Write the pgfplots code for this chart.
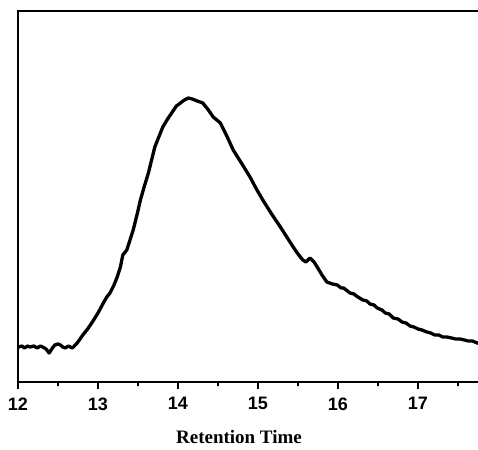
\documentclass[border=0pt]{standalone}
\usepackage{fontspec}
\setmainfont{Liberation Serif}
\setsansfont{Liberation Sans}
\usepackage{pgfplots}
\pgfplotsset{compat=1.18}
\begin{document}
\begin{tikzpicture}
\begin{axis}[
  at={(0pt,0pt)}, anchor=south west,
  scale only axis,
  width=464pt, height=371pt,
  xmin=12, xmax=17.8, ymin=0, ymax=371,
  axis line style={line width=1.8pt},
  xtick={12,13,14,15,16,17},
  minor xtick={12.5,13.5,14.5,15.5,16.5,17.5},
  ytick=\empty,
  xtick pos=bottom,
  tick align=outside,
  major tick length=7pt,
  minor tick length=4pt,
  every tick/.style={black, line width=1.5pt},
  /pgf/number format/assume math mode=true,
  xticklabel style={font=\fontsize{18}{20}\selectfont\sffamily\bfseries, yshift=-5pt},
  xlabel={Retention Time},
  xlabel style={font=\fontsize{19}{22}\selectfont\rmfamily\bfseries, yshift=-13pt, xshift=-11pt},
  clip=false,
]
\addplot[black, line width=3.3pt, line join=round] coordinates {
(12.01,35) (12.05,36) (12.08,34) (12.12,36) (12.15,35) (12.2,36) (12.24,34) (12.28,36) (12.31,35) (12.35,33)
(12.39,29) (12.43,34) (12.46,37) (12.50,38) (12.53,37) (12.56,35) (12.59,34) (12.63,36) (12.68,34)
(12.74,39) (12.81,47) (12.87,53) (12.93,60) (13.00,69) (13.06,78) (13.11,85) (13.15,89)
(13.20,97) (13.24,105) (13.28,115) (13.31,127) (13.36,132) (13.40,142) (13.44,152)
(13.49,168) (13.53,182) (13.58,196) (13.63,209) (13.67,222) (13.71,235) (13.76,245)
(13.81,255) (13.87,263) (13.93,270) (13.98,276) (14.03,279) (14.08,282) (14.13,284)
(14.18,283) (14.24,281) (14.31,279) (14.38,272) (14.44,265) (14.53,259) (14.61,246)
(14.69,232) (14.80,218) (14.90,205) (14.98,193) (15.06,182) (15.17,168) (15.28,155)
(15.36,145) (15.44,135) (15.50,128) (15.56,122) (15.60,120) (15.65,124) (15.70,120)
(15.74,115) (15.80,107) (15.86,100) (15.93,98) (15.99,97) (16.04,94) (16.07,94) (16.15,89)
(16.20,88) (16.23,86) (16.31,82) (16.36,81) (16.40,78) (16.45,77) (16.49,74) (16.55,72) (16.59,69) (16.64,68) (16.69,64) (16.75,63) (16.80,60)
(16.85,59) (16.90,56) (16.95,55) (17.00,53) (17.05,52) (17.11,50) (17.16,49) (17.21,47) (17.26,47) (17.31,45) (17.36,45) (17.42,44) (17.47,43) (17.53,43)
(17.58,42) (17.63,41) (17.68,41) (17.74,39) (17.80,38)
};
\end{axis}
\pgfresetboundingbox
\useasboundingbox (-18pt,-67pt) rectangle (460pt,382pt);
\end{tikzpicture}
\end{document}
